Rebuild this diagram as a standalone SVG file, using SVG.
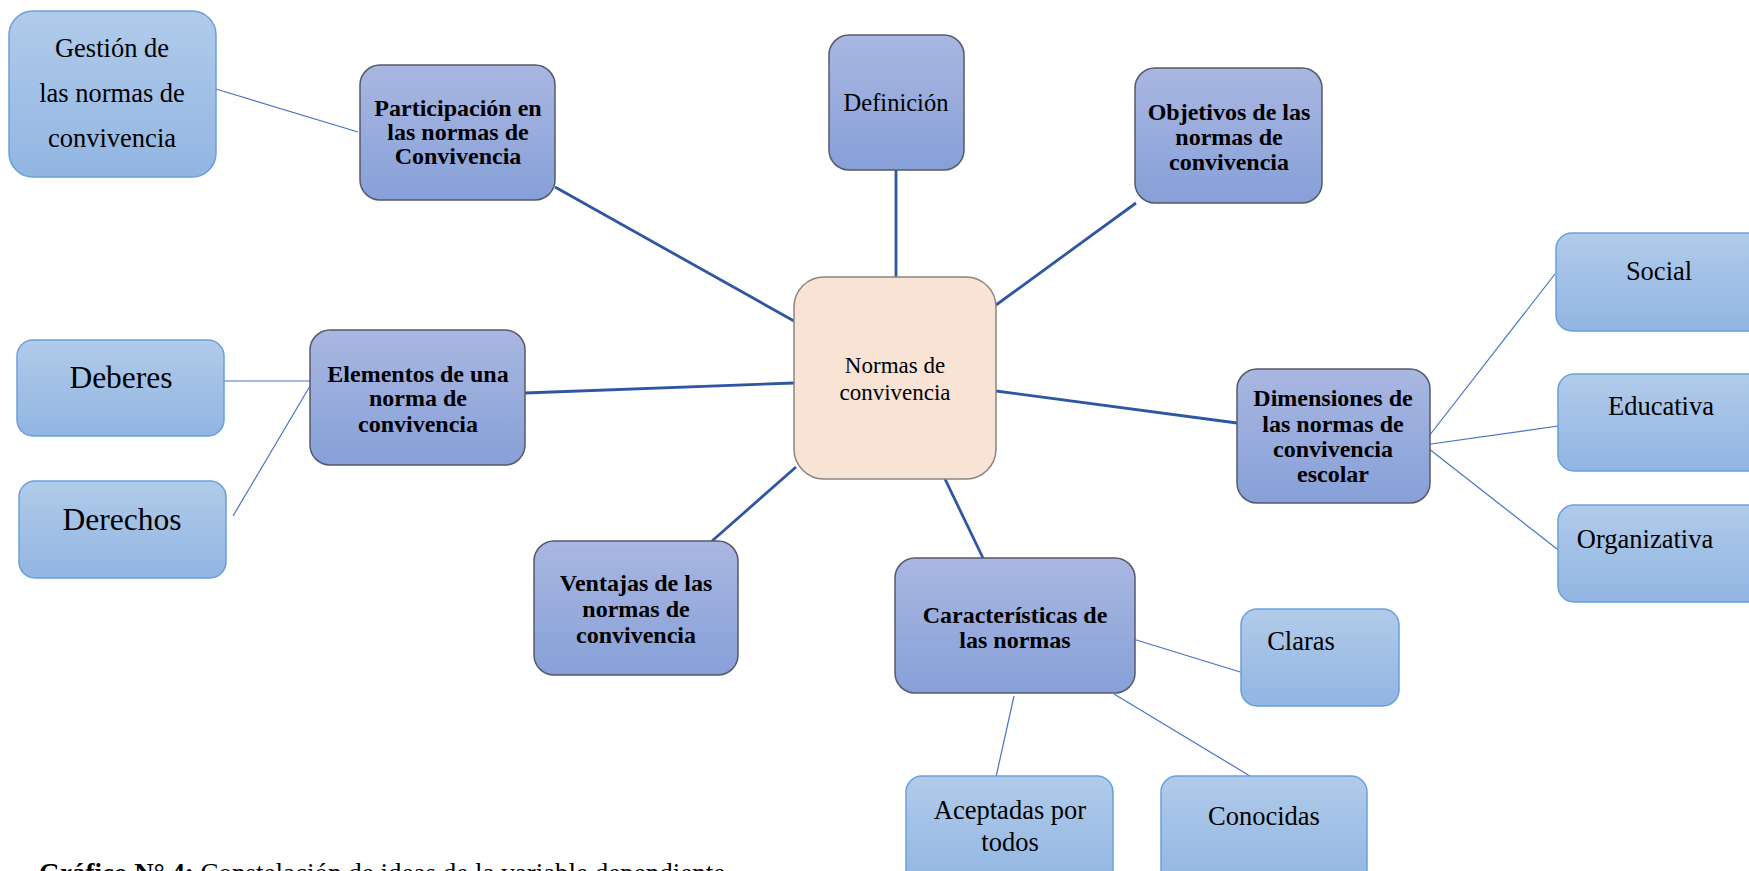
<svg xmlns="http://www.w3.org/2000/svg" width="1749" height="871" viewBox="0 0 1749 871">
<defs>
<linearGradient id="gLight" x1="0" y1="0" x2="0" y2="1">
<stop offset="0" stop-color="#b1cbea"/>
<stop offset="1" stop-color="#91b5e2"/>
</linearGradient>
<linearGradient id="gDark" x1="0" y1="0" x2="0" y2="1">
<stop offset="0" stop-color="#a9b7e1"/>
<stop offset="1" stop-color="#87a0d8"/>
</linearGradient>
<style>
.light{fill:url(#gLight);stroke:#6b9fdc;stroke-width:1.5}
.dark{fill:url(#gDark);stroke:#55596a;stroke-width:1.5}
.center{fill:#f9e3d4;stroke:#8a8580;stroke-width:1.5}
.t{font-family:"Liberation Serif","Times New Roman",serif;fill:#000;text-anchor:middle}
.b{font-weight:bold;font-size:24px}
.r{font-size:26.5px}
.c{font-size:23px}
.big{font-size:31.5px}
.thick{stroke:#2f56a3;stroke-width:2.8;fill:none}
.thin{stroke:#4573c6;stroke-width:1.2;fill:none}
</style>
</defs>
<rect width="1749" height="871" fill="#ffffff"/>
<g id="connectors">
<line class="thick" x1="794" y1="321" x2="555" y2="187"/>
<line class="thick" x1="896" y1="277" x2="896" y2="170"/>
<line class="thick" x1="996" y1="305" x2="1136" y2="203"/>
<line class="thick" x1="996" y1="391" x2="1237" y2="423"/>
<line class="thick" x1="794" y1="383" x2="525" y2="393"/>
<line class="thick" x1="796" y1="467" x2="712" y2="541"/>
<line class="thick" x1="945" y1="479" x2="983" y2="558"/>
<line class="thin" x1="216" y1="89" x2="358" y2="132"/>
<line class="thin" x1="224" y1="381" x2="312" y2="381"/>
<line class="thin" x1="233" y1="516" x2="313" y2="381"/>
<line class="thin" x1="1429" y1="436" x2="1555" y2="274"/>
<line class="thin" x1="1424" y1="445" x2="1565" y2="425"/>
<line class="thin" x1="1424" y1="445" x2="1566" y2="556"/>
<line class="thin" x1="1133" y1="639" x2="1250" y2="675"/>
<line class="thin" x1="1014" y1="696" x2="994" y2="786"/>
<line class="thin" x1="1114" y1="694" x2="1250" y2="776"/>
</g>
<g id="n-center">
<rect class="center" x="794" y="277" width="202" height="202" rx="30"/>
<text class="t c" x="895" y="373">Normas de</text>
<text class="t c" x="895" y="400">convivencia</text>
</g>
<g id="n-gestion">
<rect class="light" x="9" y="11" width="207" height="166" rx="24"/>
<text class="t r" x="112" y="57">Gestión de</text>
<text class="t r" x="112" y="102">las normas de</text>
<text class="t r" x="112" y="147">convivencia</text>
</g>
<g id="n-participacion">
<rect class="dark" x="360" y="65" width="195" height="135" rx="20"/>
<text class="t b" x="458" y="116">Participación en</text>
<text class="t b" x="458" y="140">las normas de</text>
<text class="t b" x="458" y="164">Convivencia</text>
</g>
<g id="n-definicion">
<rect class="dark" x="829" y="35" width="135" height="135" rx="20"/>
<text class="t" style="font-size:24.5px" x="896" y="111">Definición</text>
</g>
<g id="n-objetivos">
<rect class="dark" x="1135" y="68" width="187" height="135" rx="20"/>
<text class="t b" x="1229" y="120">Objetivos de las</text>
<text class="t b" x="1229" y="145">normas de</text>
<text class="t b" x="1229" y="170">convivencia</text>
</g>
<g id="n-dimensiones">
<rect class="dark" x="1237" y="369" width="193" height="134" rx="20"/>
<text class="t b" x="1333" y="406">Dimensiones de</text>
<text class="t b" x="1333" y="432">las normas de</text>
<text class="t b" x="1333" y="457">convivencia</text>
<text class="t b" x="1333" y="482">escolar</text>
</g>
<g id="n-social">
<rect class="light" x="1556" y="233" width="210" height="98" rx="16"/>
<text class="t r" x="1659" y="280">Social</text>
</g>
<g id="n-educativa">
<rect class="light" x="1558" y="374" width="210" height="97" rx="16"/>
<text class="t r" x="1661" y="415">Educativa</text>
</g>
<g id="n-organizativa">
<rect class="light" x="1558" y="505" width="210" height="97" rx="16"/>
<text class="t r" x="1645" y="548">Organizativa</text>
</g>
<g id="n-elementos">
<rect class="dark" x="310" y="330" width="215" height="135" rx="20"/>
<text class="t b" x="418" y="382">Elementos de una</text>
<text class="t b" x="418" y="406">norma de</text>
<text class="t b" x="418" y="432">convivencia</text>
</g>
<g id="n-deberes">
<rect class="light" x="17" y="340" width="207" height="96" rx="16"/>
<text class="t big" x="121" y="388">Deberes</text>
</g>
<g id="n-derechos">
<rect class="light" x="19" y="481" width="207" height="97" rx="16"/>
<text class="t big" x="122" y="530">Derechos</text>
</g>
<g id="n-ventajas">
<rect class="dark" x="534" y="541" width="204" height="134" rx="20"/>
<text class="t b" x="636" y="591">Ventajas de las</text>
<text class="t b" x="636" y="617">normas de</text>
<text class="t b" x="636" y="643">convivencia</text>
</g>
<g id="n-caracteristicas">
<rect class="dark" x="895" y="558" width="240" height="135" rx="20"/>
<text class="t b" x="1015" y="623">Características de</text>
<text class="t b" x="1015" y="648">las normas</text>
</g>
<g id="n-claras">
<rect class="light" x="1241" y="609" width="158" height="97" rx="16"/>
<text class="t r" x="1301" y="650">Claras</text>
</g>
<g id="n-aceptadas">
<rect class="light" x="906" y="776" width="207" height="110" rx="16"/>
<text class="t r" x="1010" y="819">Aceptadas por</text>
<text class="t r" x="1010" y="851">todos</text>
</g>
<g id="n-conocidas">
<rect class="light" x="1161" y="776" width="206" height="110" rx="16"/>
<text class="t r" x="1264" y="825">Conocidas</text>
</g>
<text x="39" y="882" style="font-family:'Liberation Serif','Times New Roman',serif;font-size:27px"><tspan font-weight="bold">Gráfico N° 4:</tspan> Constelación de ideas de la variable dependiente</text>
</svg>
